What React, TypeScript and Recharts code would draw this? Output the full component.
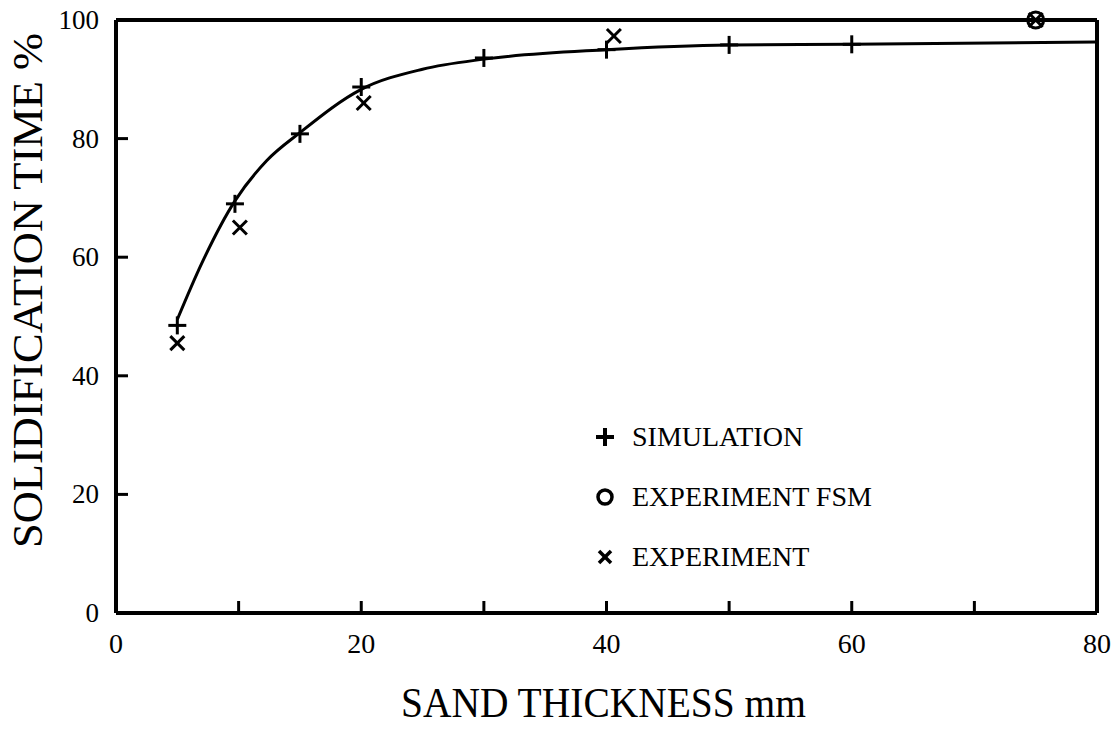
import React from 'react';
import {
  ComposedChart,
  Line,
  Scatter,
  XAxis,
  YAxis,
  ReferenceLine,
  Legend,
} from 'recharts';

// values
const simThickness = [5, 9.7, 15, 20, 30, 40, 50, 60];
const simTime = [48.5, 69, 80.8, 88.7, 93.6, 95, 95.8, 95.9];

// points
const fitThickness = [5, 7, 9.7, 12.3, 15, 20, 25, 30, 40, 50, 60, 80];
const fitTime = [49.5, 59, 69.5, 76.3, 81, 88.3, 91.7, 93.4, 95, 95.8, 95.9, 96.3];

const expThickness = [5, 10.1, 20.2, 40.6, 75];
const expTime = [45.5, 65, 86, 97.3, 100];

const fsmThickness = [75];
const fsmTime = [100];

const xTicks = [0, 10, 20, 30, 40, 50, 60, 70, 80];
const yTicks = [0, 20, 40, 60, 80, 100];

const legendOrder = ['SIMULATION', 'EXPERIMENT FSM', 'EXPERIMENT'];

const FONT = '"Liberation Serif", "Times New Roman", serif';

const toPoints = (xs: number[], ys: number[]) => xs.map((x, i) => ({ x, y: ys[i] }));

const simData = toPoints(simThickness, simTime);
const fitData = toPoints(fitThickness, fitTime);
const expData = toPoints(expThickness, expTime);
const fsmData = toPoints(fsmThickness, fsmTime);

const PlusMark = ({ cx, cy, s = 9, w = 3 }: any) => (
  <g stroke="#000" strokeWidth={w}>
    <line x1={cx - s} x2={cx + s} y1={cy} y2={cy} />
    <line x1={cx} x2={cx} y1={cy - s} y2={cy + s} />
  </g>
);

const CrossMark = ({ cx, cy, s = 7, w = 3 }: any) => (
  <g stroke="#000" strokeWidth={w}>
    <line x1={cx - s} x2={cx + s} y1={cy - s} y2={cy + s} />
    <line x1={cx - s} x2={cx + s} y1={cy + s} y2={cy - s} />
  </g>
);

const CircleMark = ({ cx, cy, r = 8, w = 3 }: any) => (
  <circle cx={cx} cy={cy} r={r} fill="none" stroke="#000" strokeWidth={w} />
);

const XTick = ({ x, y, payload }: any) => {
  const v = payload.value;
  return (
    <g>
      {v > 0 && v < 80 && (
        <line x1={x} x2={x} y1={y} y2={y - 12} stroke="#000" strokeWidth={3} />
      )}
      {v % 20 === 0 && (
        <text x={x} y={y + 40} textAnchor="middle" fontSize={28} fontFamily={FONT} fill="#000">
          {v}
        </text>
      )}
    </g>
  );
};

const YTick = ({ x, y, payload }: any) => {
  const v = payload.value;
  return (
    <g>
      {v > 0 && v < 100 && (
        <line x1={x} x2={x + 12} y1={y} y2={y} stroke="#000" strokeWidth={3} />
      )}
      <text x={x - 17} y={y + 9} textAnchor="end" fontSize={27} fontFamily={FONT} fill="#000">
        {v}
      </text>
    </g>
  );
};

const legendIcons: Record<string, (cx: number, cy: number) => React.ReactNode> = {
  SIMULATION: (cx, cy) => <PlusMark cx={cx} cy={cy} s={9} w={4} />,
  'EXPERIMENT FSM': (cx, cy) => <CircleMark cx={cx} cy={cy} r={7} w={3.5} />,
  EXPERIMENT: (cx, cy) => <CrossMark cx={cx} cy={cy} s={6} w={3.5} />,
};

const LegendBox = ({ payload }: any) => {
  const names = (payload || []).filter((p: any) => p.type !== 'none').map((p: any) => p.value);
  const rows = legendOrder.filter((n) => names.includes(n));
  return (
    <div style={{ fontFamily: FONT, fontSize: 28, color: '#000' }}>
      {rows.map((name) => (
        <div key={name} style={{ height: 60, display: 'flex', alignItems: 'center' }}>
          <svg width={30} height={30} style={{ flex: 'none' }}>
            {legendIcons[name](15, 15)}
          </svg>
          <span style={{ marginLeft: 12, whiteSpace: 'nowrap' }}>{name}</span>
        </div>
      ))}
    </div>
  );
};

export default function App() {
  return (
    <div style={{ position: 'absolute', left: 0, top: 0, width: 1116, height: 729, background: '#fff' }}>
      <ComposedChart
        width={1116}
        height={729}
        margin={{ top: 20, right: 19, bottom: 0, left: 0 }}
      >
        <XAxis
          type="number"
          dataKey="x"
          domain={[0, 80]}
          ticks={xTicks}
          interval={0}
          height={116}
          tickSize={0}
          tickMargin={0}
          tickLine={false}
          tick={<XTick />}
          axisLine={{ stroke: '#000', strokeWidth: 4 }}
          label={{
            content: ({ viewBox }: any) => (
              <text
                x={viewBox.x + viewBox.width / 2 - 3}
                y={viewBox.y + 104}
                textAnchor="middle"
                fontSize={42}
                fontFamily={FONT}
                textLength={405}
                lengthAdjust="spacingAndGlyphs"
                fill="#000"
              >
                SAND THICKNESS mm
              </text>
            ),
          }}
        />
        <YAxis
          type="number"
          dataKey="y"
          domain={[0, 100]}
          ticks={yTicks}
          interval={0}
          width={116}
          tickSize={0}
          tickMargin={0}
          tickLine={false}
          tick={<YTick />}
          axisLine={{ stroke: '#000', strokeWidth: 4 }}
          label={{
            content: ({ viewBox }: any) => {
              const cx = viewBox.x + viewBox.width - 88;
              const cy = viewBox.y + viewBox.height / 2 - 26;
              return (
                <text
                  x={cx}
                  y={cy}
                  transform={`rotate(-90, ${cx}, ${cy})`}
                  textAnchor="middle"
                  dominantBaseline="central"
                  fontSize={42}
                  fontFamily={FONT}
                  textLength={515}
                  lengthAdjust="spacingAndGlyphs"
                  fill="#000"
                >
                  SOLIDIFICATION TIME %
                </text>
              );
            },
          }}
        />
        <ReferenceLine y={100} stroke="#000" strokeWidth={4} />
        <ReferenceLine x={80} stroke="#000" strokeWidth={4} />
        <Legend
          layout="vertical"
          align="center"
          verticalAlign="middle"
          content={<LegendBox />}
          wrapperStyle={{ left: 590, top: 407, width: 340 }}
        />
        <Line
          data={fitData}
          dataKey="y"
          type="monotone"
          stroke="#000"
          strokeWidth={3}
          dot={false}
          activeDot={false}
          legendType="none"
          isAnimationActive={false}
        />
        <Scatter
          name="SIMULATION"
          data={simData}
          shape={(p: any) => <PlusMark cx={p.cx} cy={p.cy} />}
          isAnimationActive={false}
        />
        <Scatter
          name="EXPERIMENT FSM"
          data={fsmData}
          shape={(p: any) => <CircleMark cx={p.cx} cy={p.cy} />}
          isAnimationActive={false}
        />
        <Scatter
          name="EXPERIMENT"
          data={expData}
          shape={(p: any) => <CrossMark cx={p.cx} cy={p.cy} />}
          isAnimationActive={false}
        />
      </ComposedChart>
    </div>
  );
}
